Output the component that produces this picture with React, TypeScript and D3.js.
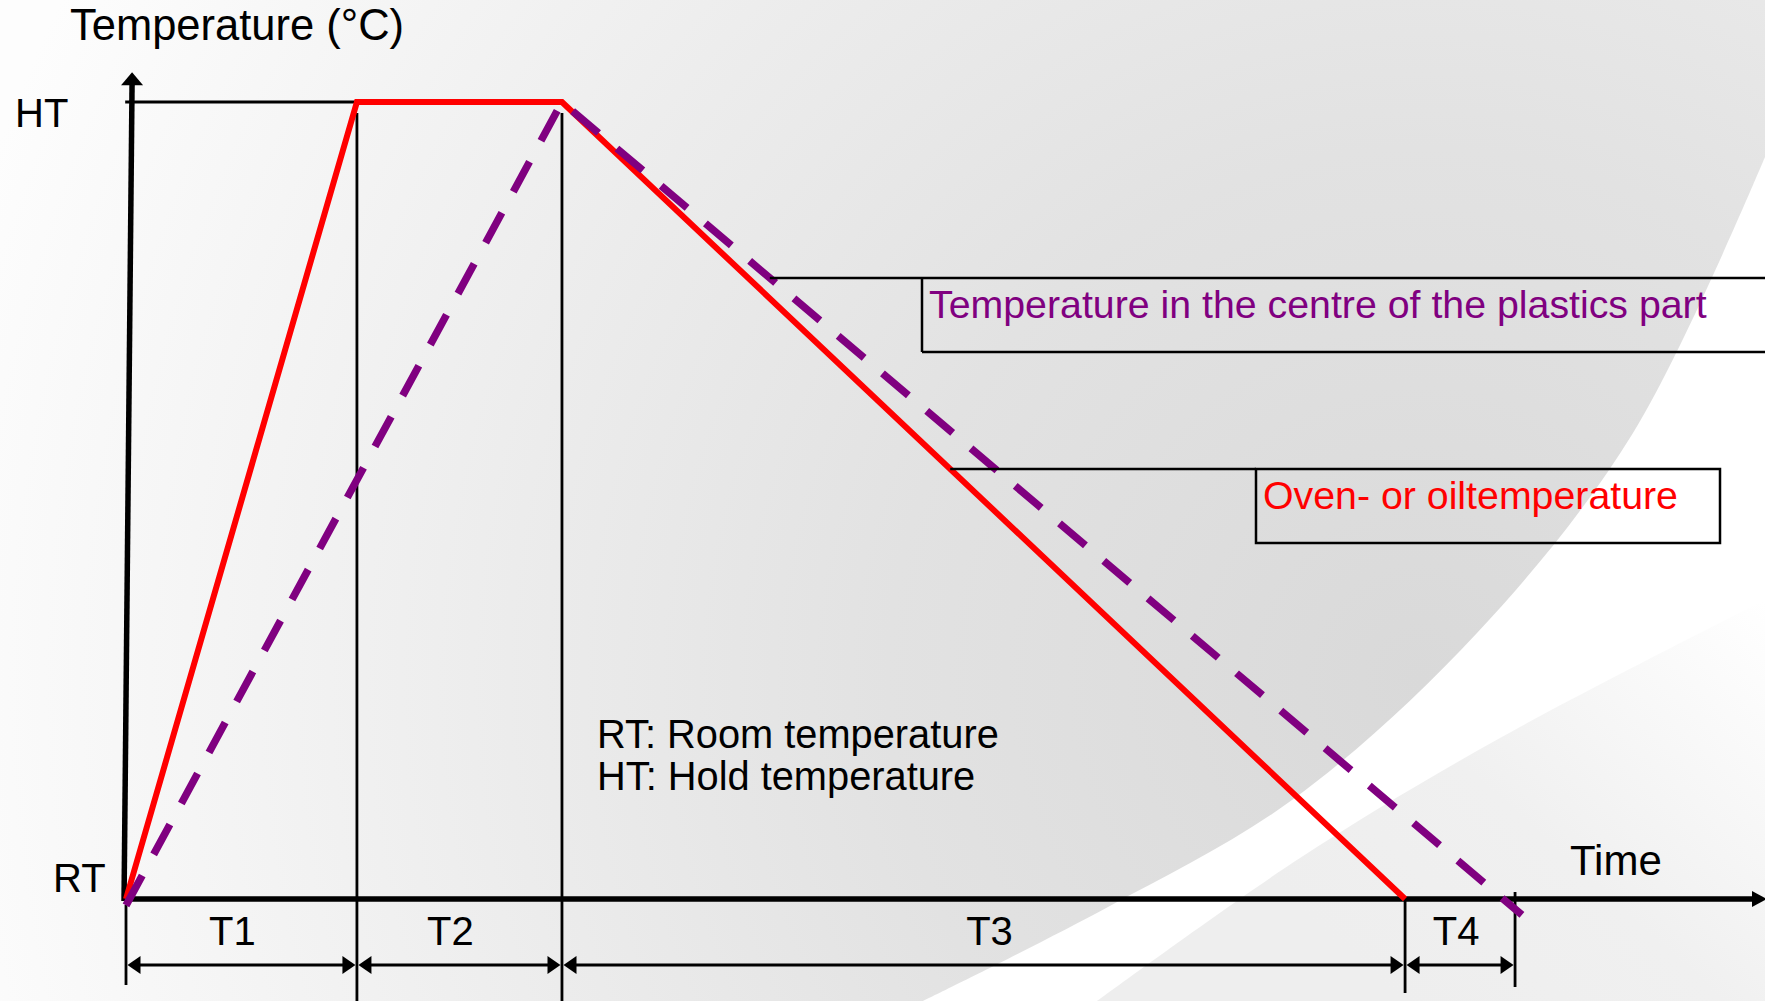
import React from "react";
import * as d3 from "d3";

// ----- data (time in arbitrary units, temperature: RT = 0, HT = 1)
const phaseLabels = ["T1", "T2", "T3", "T4"];
const phaseBounds = [0, 14.09, 26.6, 78.04, 84.75];

const ovenTime = [0, 14.09, 26.6, 78.04];
const ovenTemp = [0, 1, 1, 0];

const coreTime = [0, 26.6, 85.17];
const coreTemp = [-0.008, 1, -0.02];

const levelLabels = ["RT", "HT"];
const levelValues = [0, 1];

const legendTexts = ["Temperature in the centre of the plastics part", "Oven- or oiltemperature"];
const noteTexts = ["RT: Room temperature", "HT: Hold temperature"];

const W = 1765;
const H = 1001;
const FONT = "'Liberation Sans', Arial, Helvetica, sans-serif";
const RED = "#ff0000";
const PURPLE = "#800080";

// x position on a falling polyline at a given pixel y (for the legend leader lines)
const xAtY = (pts: [number, number][], py: number) => {
  for (let i = 1; i < pts.length; i++) {
    const [x0, y0] = pts[i - 1];
    const [x1, y1] = pts[i];
    if (y1 > y0 && py >= y0 && py <= y1) {
      return x0 + ((py - y0) / (y1 - y0)) * (x1 - x0);
    }
  }
  return pts[pts.length - 1][0];
};

const App = () => {
  // ----- scales
  const x = d3.scaleLinear().domain([0, 100]).range([126, 1765]);
  const y = d3.scaleLinear().domain([0, 1]).range([899, 102]);
  const y0 = y(0);

  const line = d3
    .line<[number, number]>()
    .x(d => x(d[0]))
    .y(d => y(d[1]));

  const ovenPts: [number, number][] = ovenTime.map((t, i) => [t, ovenTemp[i]]);
  const corePts: [number, number][] = coreTime.map((t, i) => [t, coreTemp[i]]);
  const corePx: [number, number][] = corePts.map(d => [x(d[0]), y(d[1])]);
  const ovenPx: [number, number][] = ovenPts.map(d => [x(d[0]), y(d[1])]);

  // ----- background shapes (decorative template swoosh)
  const curve = d3.line().curve(d3.curveCatmullRom.alpha(0.5));
  const upperEdge: [number, number][] = [
    [1765, 157], [1633, 433], [1477, 633], [1292, 800], [1108, 907], [923, 1001]
  ];
  const lowerEdge: [number, number][] = [[1765, 600], [1500, 738], [1300, 858], [1097, 1001]];
  const tail = (pts: [number, number][]) => curve(pts)!.replace(/^M[^CL]*/, "");
  const greyShape = `M0,0L${W},0L${upperEdge[0]}${tail(upperEdge)}L0,${H}Z`;
  const lowShape = `M${W},${H}L${lowerEdge[0]}${tail(lowerEdge)}Z`;

  // dimension arrows
  const dimY = y0 + 66;
  const labelY = y0 + 46;
  const head = (tip: number, dir: number) =>
    `${tip},${dimY} ${tip + dir * 13},${dimY - 9} ${tip + dir * 13},${dimY + 9}`;
  const labelShift = [-9, -9, 6, -4];

  const verticals = [
    { t: phaseBounds[0], y1: y0 + 6, y2: y0 + 86 },
    { t: phaseBounds[1], y1: y(1) + 11, y2: H },
    { t: phaseBounds[2], y1: y(1) + 11, y2: H },
    { t: phaseBounds[3], y1: y0 - 2, y2: y0 + 94 },
    { t: phaseBounds[4], y1: y0 - 7, y2: y0 + 88 }
  ];

  // legend boxes
  const box1 = { top: 278, bottom: 352, left: 922 };
  const box2 = { top: 469, bottom: 543, left: 1256, right: 1720 };
  const lead1 = xAtY(corePx.slice(1), box1.top);
  const lead2 = xAtY(ovenPx.slice(2), box2.top);

  const axisTopX = x(0.37);
  const axisBotX = x(-0.12);
  const axisTopY = y(1.036);

  return (
    <svg
      width={W}
      height={H}
      style={{ position: "absolute", left: 0, top: 0, display: "block" }}
      fontFamily={FONT}
    >
      <defs>
        <radialGradient id="bgGrey" gradientUnits="userSpaceOnUse" cx={1420} cy={680} r={1520}>
          <stop offset="0" stopColor="#d9d9d9" />
          <stop offset="0.35" stopColor="#e2e2e2" />
          <stop offset="0.6" stopColor="#ececec" />
          <stop offset="1" stopColor="#fdfdfd" />
        </radialGradient>
        <linearGradient id="bgLow" gradientUnits="userSpaceOnUse" x1={1765} y1={600} x2={1400} y2={1001}>
          <stop offset="0" stopColor="#ffffff" />
          <stop offset="0.6" stopColor="#f0f0f0" />
          <stop offset="1" stopColor="#eeeeee" />
        </linearGradient>
      </defs>

      {/* background */}
      <rect width={W} height={H} fill="#ffffff" />
      <path d={greyShape} fill="url(#bgGrey)" />
      <path d={lowShape} fill="url(#bgLow)" />

      {/* axis title */}
      <text x={70} y={40} fontSize={43.5} fill="#000">Temperature (°C)</text>

      {/* level labels */}
      <text x={15} y={y(levelValues[1]) + 25} fontSize={40} fill="#000">{levelLabels[1]}</text>
      <text x={53} y={y(levelValues[0]) - 7} fontSize={40} fill="#000">{levelLabels[0]}</text>

      {/* HT reference line */}
      <line x1={x(-0.05)} x2={x(phaseBounds[1])} y1={y(1)} y2={y(1)} stroke="#000" strokeWidth={3} />

      {/* phase dividers */}
      {verticals.map((v, i) => (
        <line key={i} x1={x(v.t)} x2={x(v.t)} y1={v.y1} y2={v.y2} stroke="#000" strokeWidth={2.8} />
      ))}

      {/* dimension arrows + labels */}
      {phaseLabels.map((lab, i) => {
        const a = x(phaseBounds[i]) + 1.5;
        const b = x(phaseBounds[i + 1]) - 1.5;
        return (
          <g key={lab}>
            <line x1={a + 6} x2={b - 6} y1={dimY} y2={dimY} stroke="#000" strokeWidth={3} />
            <polygon points={head(a, 1)} fill="#000" />
            <polygon points={head(b, -1)} fill="#000" />
            <text x={(a + b) / 2 + labelShift[i]} y={labelY} fontSize={40} textAnchor="middle" fill="#000">
              {lab}
            </text>
          </g>
        );
      })}

      {/* axes */}
      <line x1={axisBotX} y1={y0 + 2} x2={axisTopX} y2={axisTopY + 10} stroke="#000" strokeWidth={5.5} />
      <polygon
        points={`${axisTopX},${axisTopY - 1} ${axisTopX - 11},${axisTopY + 12} ${axisTopX + 11},${axisTopY + 12}`}
        fill="#000"
      />
      <line x1={axisBotX} x2={W - 10} y1={y0} y2={y0} stroke="#000" strokeWidth={5.5} />
      <polygon points={`${W + 2},${y0} ${W - 13},${y0 - 8} ${W - 13},${y0 + 8}`} fill="#000" />
      <text x={1570} y={875} fontSize={42} fill="#000">Time</text>

      {/* series */}
      <path d={line(ovenPts)!} fill="none" stroke={RED} strokeWidth={6} strokeLinejoin="miter" />
      <path d={line(corePts)!} fill="none" stroke={PURPLE} strokeWidth={7.5} strokeDasharray="34 24" />

      {/* legend: centre of part */}
      <line x1={lead1} x2={W} y1={box1.top} y2={box1.top} stroke="#000" strokeWidth={2.5} />
      <line x1={box1.left} x2={box1.left} y1={box1.top} y2={box1.bottom} stroke="#000" strokeWidth={2.5} />
      <line x1={box1.left} x2={W} y1={box1.bottom} y2={box1.bottom} stroke="#000" strokeWidth={2.5} />
      <text x={box1.left + 7} y={box1.top + 40} fontSize={39.3} fill={PURPLE}>{legendTexts[0]}</text>

      {/* legend: oven */}
      <line x1={lead2} x2={box2.left} y1={box2.top} y2={box2.top} stroke="#000" strokeWidth={2.5} />
      <rect
        x={box2.left}
        y={box2.top}
        width={box2.right - box2.left}
        height={box2.bottom - box2.top}
        fill="none"
        stroke="#000"
        strokeWidth={2.5}
      />
      <text x={box2.left + 7} y={box2.top + 40} fontSize={39.3} fill={RED}>{legendTexts[1]}</text>

      {/* notes */}
      {noteTexts.map((t, i) => (
        <text key={t} x={597} y={748 + i * 42} fontSize={39.8} fill="#000">{t}</text>
      ))}
    </svg>
  );
};

export default App;
